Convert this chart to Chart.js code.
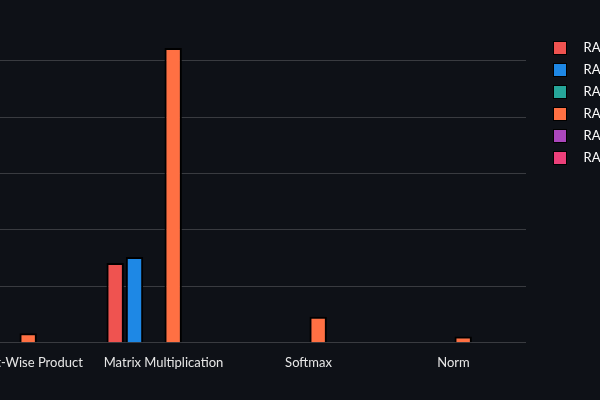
<!DOCTYPE html>
<html>
<head>
<meta charset="utf-8">
<script src="https://cdn.jsdelivr.net/npm/chart.js@4"></script>
<style>
  html, body { margin: 0; padding: 0; background: #0e1117; overflow: hidden; }
  #wrap { position: absolute; left: -120px; top: 0; width: 754px; height: 400px; }
</style>
</head>
<body>
<div id="wrap"><canvas id="chart" width="754" height="400"></canvas></div>
<script>
const categories = ['Element-Wise Product', 'Matrix Multiplication', 'Softmax', 'Norm']
const seriesNames = ['RA Run 1', 'RA Run 2', 'RA Run 3', 'RA Run 4', 'RA Run 5', 'RA Run 6']
const seriesColors = ['#ef5350', '#1e88e5', '#26a69a', '#ff7043', '#ab47bc', '#ec407a']
const run1 = [0, 28.3, 0, 0]
const run2 = [0, 30.4, 0, 0]
const run3 = [0, 0, 0, 0]
const run4 = [3.4, 104.5, 9.2, 2.2]
const run5 = [0, 0, 0, 0]
const run6 = [0, 0, 0, 0]
const seriesValues = [run1, run2, run3, run4, run5, run6]

const FONT = 'Lato'

// legend swatch: small colored square with a black edge
function swatch(color) {
  const c = document.createElement('canvas')
  c.width = 14
  c.height = 14
  const g = c.getContext('2d')
  g.fillStyle = '#000'
  g.fillRect(0, 0, 14, 14)
  g.fillStyle = color
  g.fillRect(1, 1, 12, 12)
  return c
}
const swatches = seriesColors.map(swatch)

new Chart(document.getElementById('chart'), {
  type: 'bar',
  data: {
    labels: categories,
    datasets: seriesNames.map((name, i) => ({
      label: name,
      data: seriesValues[i],
      backgroundColor: seriesColors[i],
      borderColor: '#000000',
      borderWidth: 2,
      categoryPercentage: 0.8,
      barPercentage: 0.9,
    })),
  },
  options: {
    responsive: false,
    animation: false,
    layout: { padding: { top: 32.5, bottom: 25.6, left: 0, right: 0 } },
    plugins: {
      tooltip: { enabled: false },
      legend: {
        position: 'right',
        align: 'start',
        maxWidth: 100,
        labels: {
          usePointStyle: true,
          pointStyleWidth: 34,
          padding: 9,
          color: '#fafafa',
          font: { family: FONT, size: 13 },
          generateLabels(chart) {
            const items = Chart.defaults.plugins.legend.labels.generateLabels(chart)
            items.forEach((it, i) => { it.pointStyle = swatches[i] })
            return items
          },
        },
      },
    },
    scales: {
      x: {
        grid: { display: false },
        border: { display: false },
        ticks: {
          color: '#e6e6e6',
          font: { family: FONT, size: 13 },
          padding: 4,
          maxRotation: 0,
          autoSkip: false,
        },
      },
      y: {
        min: 0,
        max: 110,
        border: { display: false },
        grid: {
          color: ctx => (ctx.tick && ctx.tick.value % 20 === 0) ? 'rgba(255,255,255,0.18)' : 'transparent',
          drawTicks: false,
        },
        ticks: {
          stepSize: 20,
          color: '#e6e6e6',
          font: { family: FONT, size: 13 },
        },
        afterFit: s => { s.width = 66 },
      },
      yR: {
        type: 'linear',
        position: 'right',
        grid: { display: false },
        border: { display: false },
        ticks: { display: false },
        afterFit: s => { s.width = 8 },
      },
    },
  },
})
</script>
</body>
</html>
